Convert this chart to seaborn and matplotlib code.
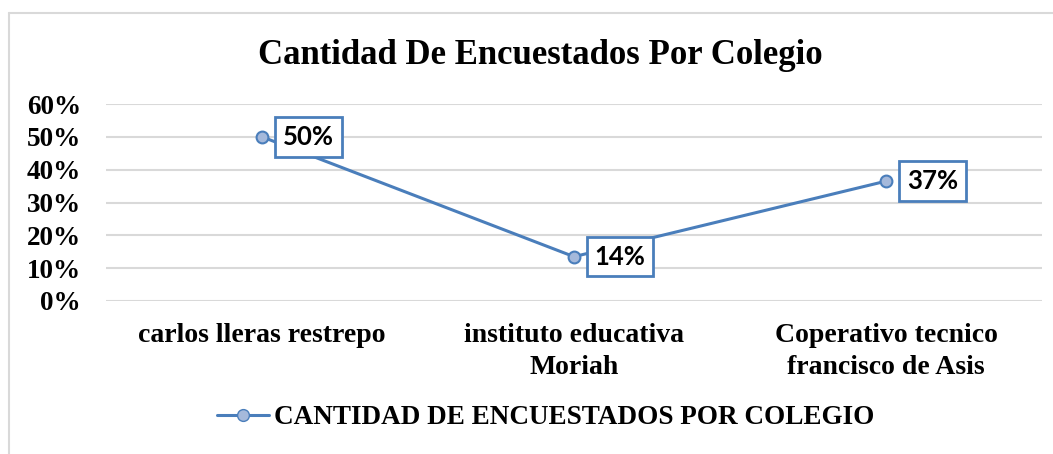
import matplotlib
matplotlib.use("Agg")
import matplotlib.pyplot as plt
from matplotlib.lines import Line2D
import seaborn as sns
import pandas as pd

# === Data ===
colegios = ["carlos lleras restrepo", "instituto educativa\nMoriah",
            "Coperativo tecnico\nfrancisco de Asis"]
porcentajes = [0.50, 0.135, 0.365]
etiquetas = ["50%", "14%", "37%"]
serie = "CANTIDAD DE ENCUESTADOS POR COLEGIO"
yticks = [0, 0.1, 0.2, 0.3, 0.4, 0.5, 0.6]

df = pd.DataFrame({"colegio": colegios, "pct": porcentajes})

sns.set_theme(style="white")
plt.rcParams["font.family"] = ["Liberation Serif", "DejaVu Serif"]
plt.rcParams["text.color"] = "black"
plt.rcParams["xtick.color"] = "black"
plt.rcParams["ytick.color"] = "black"

blue = "#4A7EBB"
fig = plt.figure(figsize=(10.53, 4.54), dpi=100)
ax = fig.add_axes([106 / 1053, 1 - 301 / 454, (1042 - 106) / 1053, (301 - 104) / 454])

sns.lineplot(data=df, x="colegio", y="pct", ax=ax, color=blue, linewidth=2.2,
             marker="o", markersize=8.5, markerfacecolor="#A5B9DB",
             markeredgecolor=blue, markeredgewidth=1.5, sort=False)

ax.set_xlim(-0.5, 2.5)
ax.set_ylim(0, 0.6)
ax.set_yticks(yticks)
ax.set_yticklabels([f"{int(round(v * 100))}%" for v in yticks],
                   fontsize=19.5, fontweight="bold")
ax.set_xticks(range(len(colegios)))
ax.set_xticklabels(colegios, fontsize=20, fontweight="bold", linespacing=1.38)
ax.tick_params(axis="y", length=0, pad=18)
ax.tick_params(axis="x", length=0, pad=15.5)
ax.set_xlabel("")
ax.set_ylabel("")
ax.grid(axis="y", color="#D9D9D9", linewidth=1.5)
ax.set_axisbelow(True)
for s in ax.spines.values():
    s.set_visible(False)

# etiquetas de datos
for i, (v, t) in enumerate(zip(porcentajes, etiquetas)):
    ax.annotate(t, (i, v), xytext=(15, 0), textcoords="offset points",
                ha="left", va="center", fontsize=18.5, fontweight="bold",
                family="Lato", color="black",
                bbox=dict(boxstyle="square,pad=0.3", fc="white", ec=blue, lw=2))

fig.text(0.513, 1 - 55 / 454, "Cantidad De Encuestados Por Colegio",
         ha="center", va="center", fontsize=25, fontweight="bold")

# leyenda
handle = Line2D([], [], color=blue, linewidth=2.2, marker="o", markersize=8.5,
                markerfacecolor="#A5B9DB", markeredgecolor=blue)
fig.legend([handle], [serie], loc="center", bbox_to_anchor=(0.5185, 1 - 418 / 454),
           frameon=False, handlelength=1.9, handletextpad=0.2,
           prop={"size": 19.5, "weight": "bold", "family": "Liberation Serif"})

# borde del grafico
fig.add_artist(Line2D([9 / 1053, 9 / 1053], [0, 1 - 12.5 / 454],
                      transform=fig.transFigure, color="#D9D9D9", lw=1.5))
fig.add_artist(Line2D([9 / 1053, 1], [1 - 12.5 / 454, 1 - 12.5 / 454],
                      transform=fig.transFigure, color="#D9D9D9", lw=1.5))

plt.savefig("out.png", dpi=100)
plt.close()
